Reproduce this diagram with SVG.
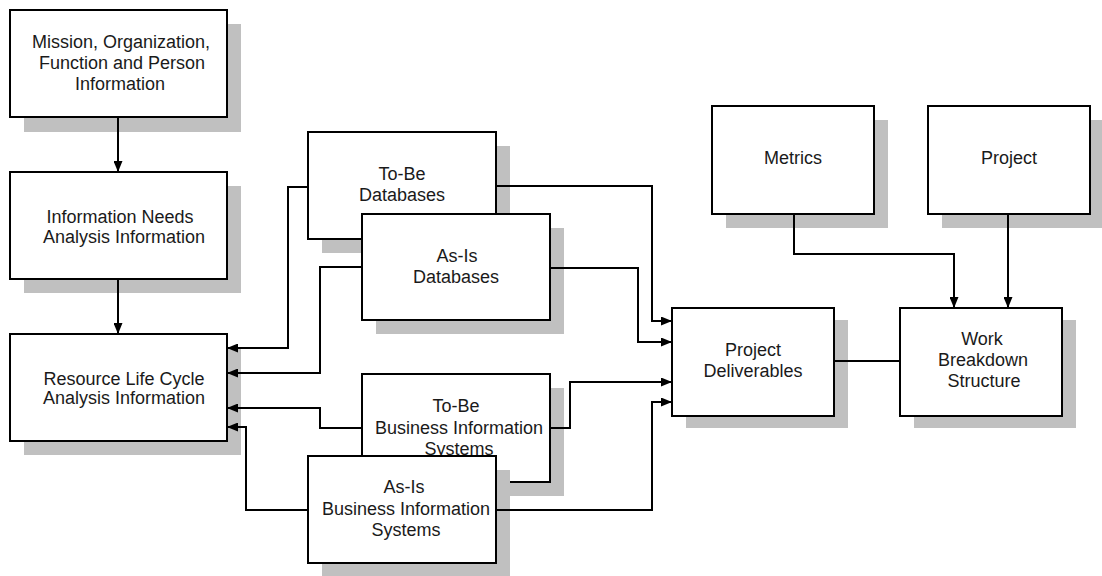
<svg xmlns="http://www.w3.org/2000/svg" width="1102" height="576" viewBox="0 0 1102 576">
<style>
.sh{fill:#c0c0c0;stroke:none}
.bx{fill:#fff;stroke:#000;stroke-width:2}
.t{font-family:"Liberation Sans",Arial,sans-serif;font-size:18px;fill:#1a1a1a;text-anchor:middle}
.c{fill:none;stroke:#000;stroke-width:2}
</style>
<defs>
<marker id="ah" viewBox="0 0 11 9" refX="11" refY="4.5" markerWidth="11" markerHeight="9" markerUnits="userSpaceOnUse" orient="auto">
<path d="M0,0 L11,4.5 L0,9 Z" fill="#000"/>
</marker>
</defs>
<rect width="1102" height="576" fill="#fff"/>
<g id="mission">
<rect class="sh" x="24" y="24" width="217" height="108"/>
<rect class="bx" x="10" y="10" width="217" height="107"/>
<text class="t"><tspan x="121" y="48">Mission, Organization,</tspan><tspan x="122" y="69">Function and Person</tspan><tspan x="120" y="90">Information</tspan></text>
</g>
<g id="info-needs">
<rect class="sh" x="24" y="186" width="217" height="107"/>
<rect class="bx" x="10" y="172" width="217" height="107"/>
<text class="t"><tspan x="120" y="223">Information Needs</tspan><tspan x="124" y="243">Analysis Information</tspan></text>
</g>
<g id="resource">
<rect class="sh" x="24" y="348" width="217" height="107"/>
<rect class="bx" x="10" y="334" width="217" height="107"/>
<text class="t"><tspan x="124" y="385">Resource Life Cycle</tspan><tspan x="124" y="404">Analysis Information</tspan></text>
</g>
<g id="tobe-db">
<rect class="sh" x="322" y="146" width="188" height="107"/>
<rect class="bx" x="308" y="132" width="188" height="107"/>
<text class="t"><tspan x="402" y="180">To-Be</tspan><tspan x="402" y="201">Databases</tspan></text>
</g>
<g id="asis-db">
<rect class="sh" x="376" y="228" width="188" height="106"/>
<rect class="bx" x="362" y="214" width="188" height="106"/>
<text class="t"><tspan x="457" y="262">As-Is</tspan><tspan x="456" y="283">Databases</tspan></text>
</g>
<g id="tobe-bis">
<rect class="sh" x="376" y="388" width="188" height="108"/>
<rect class="bx" x="362" y="374" width="188" height="108"/>
<text class="t"><tspan x="456" y="412">To-Be</tspan><tspan x="459" y="434">Business Information</tspan><tspan x="459" y="455">Systems</tspan></text>
</g>
<g id="asis-bis">
<rect class="sh" x="322" y="470" width="188" height="107"/>
<rect class="bx" x="308" y="456" width="188" height="107"/>
<text class="t"><tspan x="404" y="493">As-Is</tspan><tspan x="406" y="515">Business Information</tspan><tspan x="406" y="536">Systems</tspan></text>
</g>
<g id="metrics">
<rect class="sh" x="726" y="120" width="162" height="108"/>
<rect class="bx" x="712" y="106" width="162" height="108"/>
<text class="t" x="793" y="164">Metrics</text>
</g>
<g id="project">
<rect class="sh" x="942" y="120" width="162" height="108"/>
<rect class="bx" x="928" y="106" width="162" height="108"/>
<text class="t" x="1009" y="164">Project</text>
</g>
<g id="deliverables">
<rect class="sh" x="686" y="320" width="162" height="108"/>
<rect class="bx" x="672" y="308" width="162" height="108"/>
<text class="t"><tspan x="753" y="356">Project</tspan><tspan x="753" y="377">Deliverables</tspan></text>
</g>
<g id="wbs">
<rect class="sh" x="914" y="320" width="162" height="108"/>
<rect class="bx" x="900" y="308" width="162" height="108"/>
<text class="t"><tspan x="982" y="345">Work</tspan><tspan x="983" y="366">Breakdown</tspan><tspan x="984" y="387">Structure</tspan></text>
</g>
<g id="connectors">
<path class="c" d="M118,117 L118,172" marker-end="url(#ah)"/>
<path class="c" d="M118,279 L118,334" marker-end="url(#ah)"/>
<path class="c" d="M308,187 L288,187 L288,348 L227,348" marker-end="url(#ah)"/>
<path class="c" d="M362,267 L320,267 L320,373 L227,373" marker-end="url(#ah)"/>
<path class="c" d="M362,428 L320,428 L320,408 L227,408" marker-end="url(#ah)"/>
<path class="c" d="M308,510 L246,510 L246,427 L227,427" marker-end="url(#ah)"/>
<path class="c" d="M496,186 L652,186 L652,321 L672,321" marker-end="url(#ah)"/>
<path class="c" d="M550,268 L638,268 L638,342 L672,342" marker-end="url(#ah)"/>
<path class="c" d="M550,428 L570,428 L570,382 L672,382" marker-end="url(#ah)"/>
<path class="c" d="M496,510 L652,510 L652,402 L672,402" marker-end="url(#ah)"/>
<path class="c" d="M794,214 L794,254 L954,254 L954,308" marker-end="url(#ah)"/>
<path class="c" d="M1008,214 L1008,308" marker-end="url(#ah)"/>
<path class="c" d="M834,361 L900,361"/>
</g>
</svg>
